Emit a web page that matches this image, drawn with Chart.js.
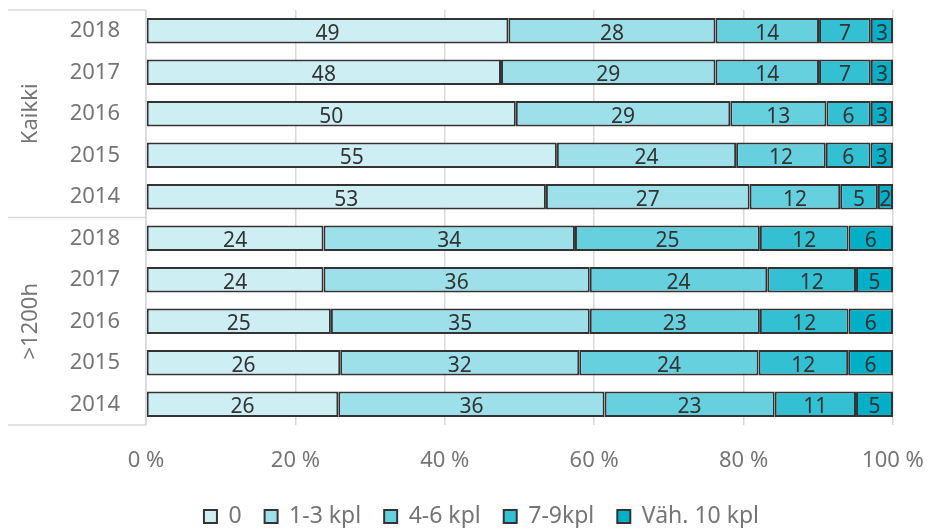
<!DOCTYPE html>
<html>
<head>
<meta charset="utf-8">
<script src="https://cdn.jsdelivr.net/npm/chart.js@4.4.1/dist/chart.umd.min.js"></script>
<style>
  html, body { margin:0; padding:0; background:#fff; }
  #wrap { width:928px; height:528px; position:relative; }
</style>
</head>
<body>
<div id="wrap"><canvas id="c"></canvas></div>
<script>
// rows, top to bottom
const years = ['2018','2017','2016','2015','2014','2018','2017','2016','2015','2014'];
const groups = ['Kaikki', '>1200h'];
const groupSize = 5;

const seriesNames = ['0', '1-3 kpl', '4-6 kpl', '7-9kpl', 'Väh. 10 kpl'];
const s0 = [49, 48, 50, 55, 53, 24, 24, 25, 26, 26];
const s1 = [28, 29, 29, 24, 27, 34, 36, 35, 32, 36];
const s2 = [14, 14, 13, 12, 12, 25, 24, 23, 24, 23];
const s3 = [7, 7, 6, 6, 5, 12, 12, 12, 12, 11];
const s4 = [3, 3, 3, 3, 2, 6, 5, 6, 6, 5];
const xTicks = [0, 20, 40, 60, 80, 100];

const COLORS = ['#cdeef2', '#9de0e9', '#66d0de', '#33c0d3', '#00b0c8'];
const FONT = '"Noto Sans", "Open Sans", sans-serif';

// 100 % stacking: each value as share of its row total
const series = [s0, s1, s2, s3, s4];
const totals = years.map((_, i) => series.reduce((a, s) => a + s[i], 0));

const datasets = series.map((s, k) => ({
  label: seriesNames[k],
  data: s.map((v, i) => v / totals[i] * 100),
  raw: s,
  backgroundColor: COLORS[k],
  borderColor: '#333333',
  borderWidth: 2,
  borderSkipped: false,
  barPercentage: 0.62,
  categoryPercentage: 1
}));

// value labels inside segments
const valueLabels = {
  id: 'valueLabels',
  afterDatasetsDraw(chart) {
    const ctx = chart.ctx;
    ctx.save();
    ctx.font = '21px ' + FONT;
    ctx.fillStyle = '#333333';
    ctx.textAlign = 'center';
    ctx.textBaseline = 'middle';
    chart.data.datasets.forEach((ds, k) => {
      chart.getDatasetMeta(k).data.forEach((bar, i) => {
        const cx = (bar.x + bar.base) / 2;
        ctx.fillText(String(ds.raw[i]), cx, bar.y + 3);
      });
    });
    ctx.restore();
  }
};

// multi-level category frame and rotated group names
const groupAxis = {
  id: 'groupAxis',
  afterDraw(chart) {
    const ctx = chart.ctx, y = chart.scales.y, a = chart.chartArea;
    const x0 = 8;
    ctx.save();
    ctx.strokeStyle = '#d9d9d9';
    ctx.lineWidth = 1.5;
    const lines = [a.top, y.getPixelForValue(groupSize - 0.5), a.bottom];
    lines.forEach(py => {
      ctx.beginPath(); ctx.moveTo(x0, py); ctx.lineTo(a.left, py); ctx.stroke();
    });
    ctx.beginPath(); ctx.moveTo(a.left, a.top); ctx.lineTo(a.left, a.bottom); ctx.stroke();

    ctx.font = '22px ' + FONT;
    ctx.fillStyle = '#757575';
    ctx.textAlign = 'center';
    ctx.textBaseline = 'middle';
    groups.forEach((g, gi) => {
      const yc = (y.getPixelForValue(gi * groupSize) + y.getPixelForValue(gi * groupSize + groupSize - 1)) / 2;
      ctx.save();
      ctx.translate(31, yc);
      ctx.rotate(-Math.PI / 2);
      ctx.fillText(g, 0, 0);
      ctx.restore();
    });
    ctx.restore();
  }
};

new Chart(document.getElementById('c'), {
  type: 'bar',
  data: { labels: years, datasets },
  plugins: [valueLabels, groupAxis],
  options: {
    indexAxis: 'y',
    responsive: true,
    maintainAspectRatio: false,
    animation: false,
    layout: { padding: { top: 10, right: 35, bottom: -10, left: 70 } },
    plugins: {
      tooltip: { enabled: false },
      legend: {
        position: 'bottom',
        labels: {
          color: '#757575',
          font: { family: FONT, size: 23 },
          boxWidth: 13,
          boxHeight: 13,
          padding: 23
        }
      }
    },
    scales: {
      x: {
        stacked: true,
        min: 0,
        max: 100,
        afterBuildTicks: s => { s.ticks = xTicks.map(v => ({ value: v })); },
        afterFit: s => { s.height = 57; s.paddingLeft = 0; s.paddingRight = 0; },
        ticks: {
          color: '#757575',
          font: { family: FONT, size: 22 },
          padding: 23,
          callback: v => v + ' %'
        },
        grid: { color: '#d9d9d9', lineWidth: 1.5, drawTicks: false },
        border: { display: false }
      },
      y: {
        stacked: true,
        afterFit: s => { s.width = 76; s.paddingTop = 0; s.paddingBottom = 0; },
        ticks: {
          color: '#757575',
          font: { family: FONT, size: 22 },
          padding: 18
        },
        grid: { display: false },
        border: { display: false }
      }
    }
  }
});
</script>
</body>
</html>
